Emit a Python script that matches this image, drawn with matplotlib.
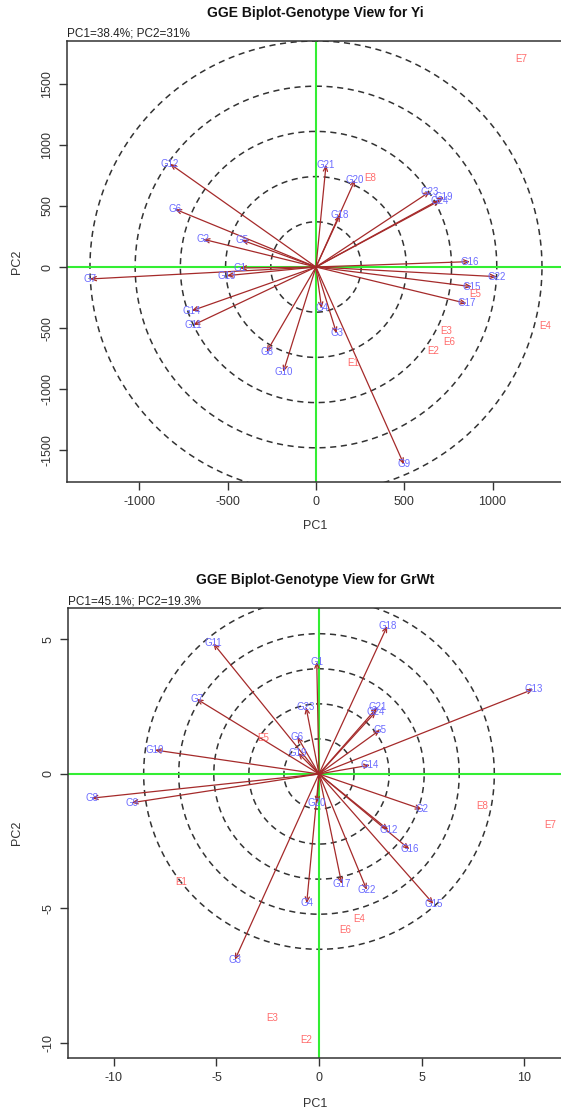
import numpy as np
import matplotlib
matplotlib.use("Agg")
import matplotlib.pyplot as plt

plt.rcParams["font.family"] = ["Liberation Sans", "DejaVu Sans"]
plt.rcParams["axes.unicode_minus"] = False

# ---- Yi biplot data ----
yi_gen_names = ["G1", "G2", "G3", "G4", "G5", "G6", "G7", "G8", "G9", "G10", "G11", "G12",
                "G13", "G14", "G15", "G16", "G17", "G18", "G19", "G20", "G21", "G22", "G23", "G24"]
yi_gen_pc1 = [-430, -638, 117, 32, -421, -798, -1280, -279, 498, -185, -695, -827,
              -506, -704, 882, 872, 853, 136, 725, 221, 57, 1023, 646, 702]
yi_gen_pc2 = [-8, 227, -544, -339, 221, 473, -98, -694, -1615, -858, -475, 844,
              -71, -358, -161, 44, -298, 426, 571, 713, 836, -79, 617, 544]
yi_env_names = ["E1", "E2", "E3", "E4", "E5", "E6", "E7", "E8"]
yi_env_pc1 = [211, 664, 740, 1297, 900, 755, 1165, 306]
yi_env_pc2 = [-784, -686, -525, -484, -221, -612, 1700, 727]
yi_circles = [256, 512, 768, 1024, 1280]

# ---- GrWt biplot data ----
gw_gen_names = yi_gen_names
gw_gen_pc1 = [-0.11, 5.01, -4.10, -0.60, 2.98, -1.06, -5.97, -11.09, -9.14, -8.0, -5.16, 3.38,
              10.45, 2.49, 5.58, 4.41, 1.11, 3.33, -1.02, -0.10, 2.85, 2.33, -0.63, 2.78]
gw_gen_pc2 = [4.17, -1.31, -6.91, -4.81, 1.64, 1.39, 2.79, -0.90, -1.07, 0.89, 4.86, -2.08,
              3.15, 0.33, -4.83, -2.80, -4.09, 5.50, 0.78, -1.07, 2.48, -4.31, 2.48, 2.32]
gw_env_names = ["E1", "E2", "E3", "E4", "E5", "E6", "E7", "E8"]
gw_env_pc1 = [-6.70, -0.63, -2.29, 1.97, -2.72, 1.27, 11.27, 7.98]
gw_env_pc2 = [-4.00, -9.89, -9.07, -5.40, 1.33, -5.80, -1.90, -1.19]
gw_circles = [1.71, 3.42, 5.13, 6.84, 8.55]

W, H = 561, 1109
fig = plt.figure(figsize=(W / 100, H / 100), dpi=100)

ARROW_COL = "#a52a2a"
GEN_COL = "#6b6bff"
ENV_COL = "#ff6b6b"
LINE_COL = "#33ee33"


def biplot(box, xlim, ylim, xticks, yticks, gx, gy, gnames, ex, ey, enames, radii,
           title, subtitle, title_y, sub_y, xlab_y):
    left, top, right, bottom = box
    ax = fig.add_axes([left / W, 1 - bottom / H, (right - left) / W, (bottom - top) / H])
    ax.set_xlim(xlim)
    ax.set_ylim(ylim)

    # circles are round on screen, so scale the y radius by the pixel ratio
    ppx = (right - left) / (xlim[1] - xlim[0])
    ppy = (bottom - top) / (ylim[1] - ylim[0])
    t = np.linspace(0, 2 * np.pi, 400)
    for r in radii:
        ax.plot(r * np.cos(t), r * ppx / ppy * np.sin(t), color="#333333",
                lw=1.1, ls=(0, (4, 3)), zorder=1)

    ax.axhline(0, color=LINE_COL, lw=1.5, zorder=2)
    ax.axvline(0, color=LINE_COL, lw=1.5, zorder=2)

    for x, y in zip(gx, gy):
        ax.annotate("", xy=(x, y), xytext=(0, 0),
                    arrowprops=dict(arrowstyle="->,head_length=0.35,head_width=0.15",
                                    color=ARROW_COL, lw=0.9, shrinkA=0, shrinkB=0),
                    zorder=3)
    for x, y, n in zip(gx, gy, gnames):
        ax.text(x, y, n, ha="center", va="center", fontsize=7, color=GEN_COL, zorder=4)
    for x, y, n in zip(ex, ey, enames):
        ax.text(x, y, n, ha="center", va="center", fontsize=7, color=ENV_COL, zorder=4)

    ax.set_xticks(xticks)
    ax.set_yticks(yticks)
    ax.tick_params(direction="out", length=6, width=1, colors="#333333",
                   labelsize=9, pad=4)
    for lab in ax.get_yticklabels():
        lab.set_rotation(90)
        lab.set_va("center")
    for s in ax.spines.values():
        s.set_color("#333333")
        s.set_linewidth(1.1)

    cx = (left + right) / 2
    fig.text(cx / W, 1 - title_y / H, title, ha="center", va="center",
             fontsize=10, fontweight="bold", color="#111111")
    fig.text(left / W, 1 - sub_y / H, subtitle, ha="left", va="center",
             fontsize=8.5, color="#222222")
    fig.text(cx / W, 1 - xlab_y / H, "PC1", ha="center", va="center",
             fontsize=9, color="#333333")
    fig.text(17 / W, 1 - (top + bottom) / 2 / H, "PC2", ha="center", va="center",
             rotation=90, fontsize=9, color="#333333")
    return ax


biplot((67, 41, 563, 482), (-1410, 1399), (-1759, 1849),
       [-1000, -500, 0, 500, 1000], [-1500, -1000, -500, 0, 500, 1000, 1500],
       yi_gen_pc1, yi_gen_pc2, yi_gen_names, yi_env_pc1, yi_env_pc2, yi_env_names,
       yi_circles, "GGE Biplot-Genotype View for Yi", "PC1=38.4%; PC2=31%",
       13, 34, 526)

biplot((68, 608, 563, 1058), (-12.24, 11.9), (-10.56, 6.17),
       [-10, -5, 0, 5, 10], [-10, -5, 0, 5],
       gw_gen_pc1, gw_gen_pc2, gw_gen_names, gw_env_pc1, gw_env_pc2, gw_env_names,
       gw_circles, "GGE Biplot-Genotype View for GrWt", "PC1=45.1%; PC2=19.3%",
       580, 601, 1104)

fig.savefig("out.png", dpi=100)
